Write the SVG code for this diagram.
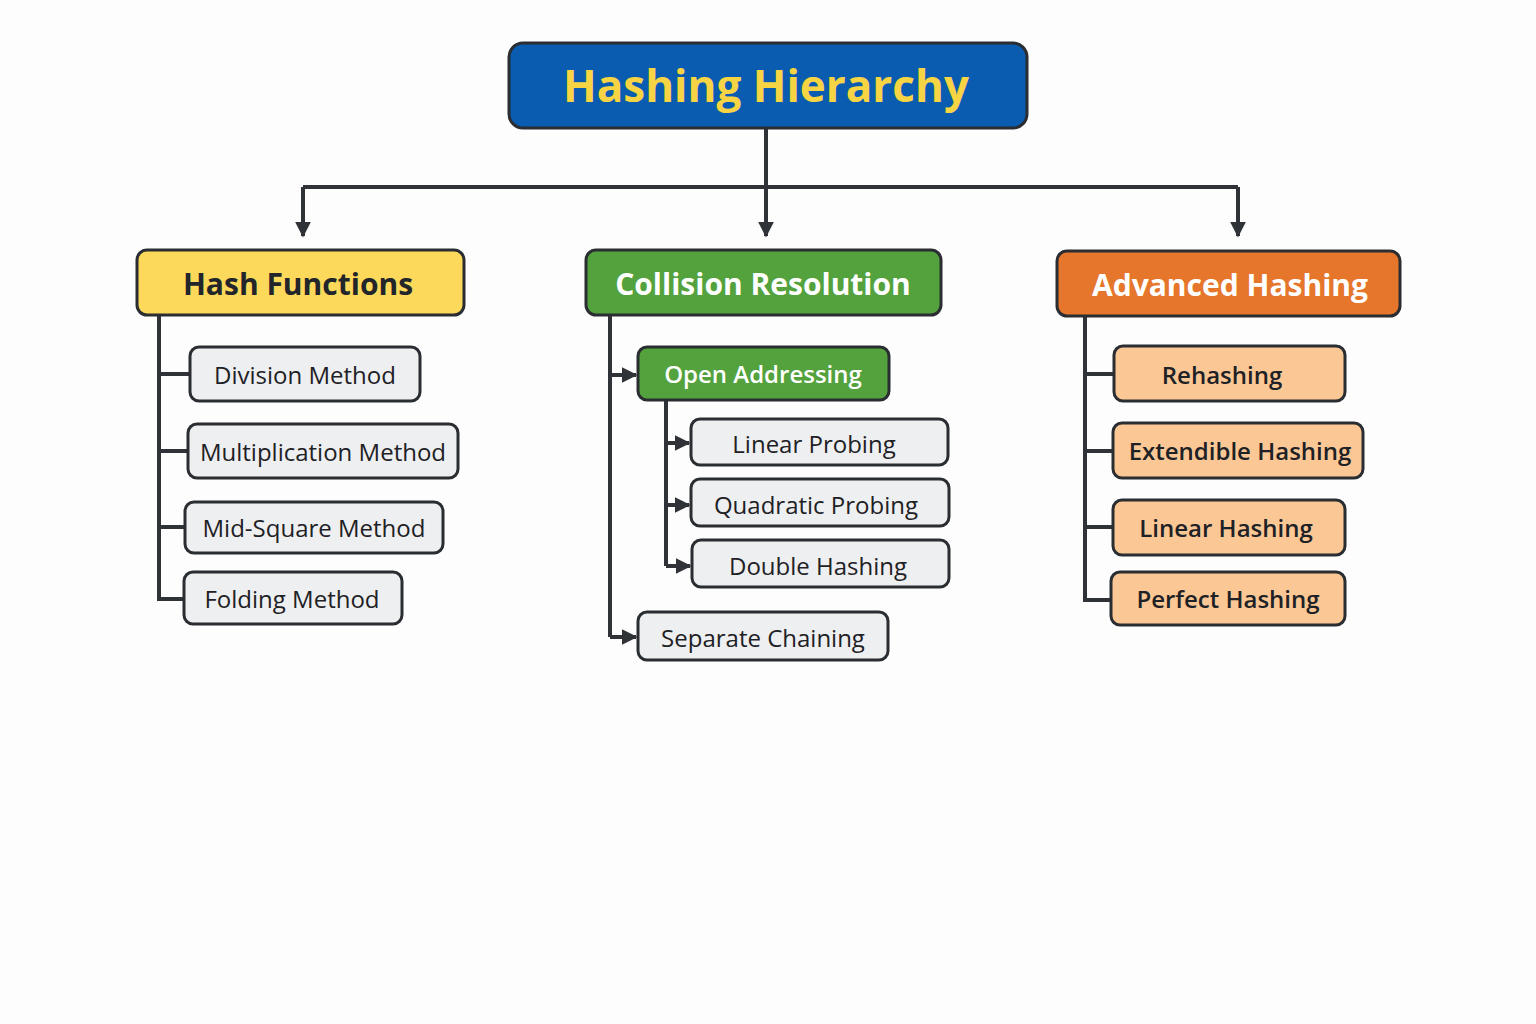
<svg xmlns="http://www.w3.org/2000/svg" width="1536" height="1024" viewBox="0 0 1536 1024">
<defs>
<style>
.n{stroke:#2a2d31;stroke-width:3}
.leaf{fill:#eeeff0}
.peach{fill:#fbc895}
.t{font-family:"Open Sans","Liberation Sans",sans-serif;font-size:24px;fill:#1e2125;text-anchor:middle;dominant-baseline:central}
.h{font-family:"Open Sans","Liberation Sans",sans-serif;font-size:30px;font-weight:bold;text-anchor:middle;dominant-baseline:central}
.c{fill:none;stroke:#2f3236;stroke-width:4}
</style>
<marker id="a" viewBox="0 0 10 10" refX="9" refY="5" markerWidth="4" markerHeight="4" orient="auto"><path d="M0,0 L10,5 L0,10 z" fill="#2f3236"/></marker>
</defs>
<rect width="1536" height="1024" fill="#fdfdfd"/>
<g id="connectors">
<path class="c" d="M766,128 V187 M303,187 H1238"/>
<path class="c" d="M303,187 V236" marker-end="url(#a)"/>
<path class="c" d="M766,187 V236" marker-end="url(#a)"/>
<path class="c" d="M1238,187 V236" marker-end="url(#a)"/>
<path class="c" d="M159,315 V599 H185 M159,374 H190 M159,451 H188 M159,527 H185"/>
<path class="c" d="M610,315 V637"/>
<path class="c" d="M610,375 H636" marker-end="url(#a)"/>
<path class="c" d="M610,637 H636" marker-end="url(#a)"/>
<path class="c" d="M666,400 V566"/>
<path class="c" d="M666,443 H689" marker-end="url(#a)"/>
<path class="c" d="M666,505 H689" marker-end="url(#a)"/>
<path class="c" d="M666,566 H690" marker-end="url(#a)"/>
<path class="c" d="M1085,316 V600 H1111 M1085,374 H1114 M1085,451 H1113 M1085,527 H1113"/>
</g>
<g id="root"><rect class="n" x="509" y="43" width="518" height="85" rx="14" fill="#0a5cb0"/><text class="h" x="766" y="85" style="font-size:44px;fill:#f7d443">Hashing Hierarchy</text></g>
<g id="hash-functions"><rect class="n" x="137" y="250" width="327" height="65" rx="10" fill="#fcd95a"/><text class="h" x="298" y="283" fill="#22252a">Hash Functions</text></g>
<g id="collision-resolution"><rect class="n" x="586" y="250" width="355" height="65" rx="10" fill="#53a23d"/><text class="h" x="763" y="283" fill="#fff">Collision Resolution</text></g>
<g id="advanced-hashing"><rect class="n" x="1057" y="251" width="343" height="65" rx="10" fill="#e5762b"/><text class="h" x="1230" y="284" fill="#fff">Advanced Hashing</text></g>
<g id="division"><rect class="n leaf" x="190" y="347" width="230" height="54" rx="9"/><text class="t" x="305" y="374">Division Method</text></g>
<g id="multiplication"><rect class="n leaf" x="188" y="424" width="270" height="54" rx="9"/><text class="t" x="323" y="451">Multiplication Method</text></g>
<g id="mid-square"><rect class="n leaf" x="185" y="502" width="258" height="51" rx="9"/><text class="t" x="314" y="527">Mid-Square Method</text></g>
<g id="folding"><rect class="n leaf" x="184" y="572" width="218" height="52" rx="9"/><text class="t" x="292" y="598">Folding Method</text></g>
<g id="open-addressing"><rect class="n" x="638" y="347" width="251" height="53" rx="9" fill="#53a23d"/><text class="t" x="763" y="373" style="fill:#fff;font-weight:600">Open Addressing</text></g>
<g id="linear-probing"><rect class="n leaf" x="691" y="419" width="257" height="46" rx="9"/><text class="t" x="814" y="443">Linear Probing</text></g>
<g id="quadratic-probing"><rect class="n leaf" x="691" y="479" width="258" height="47" rx="9"/><text class="t" x="816" y="504">Quadratic Probing</text></g>
<g id="double-hashing"><rect class="n leaf" x="692" y="540" width="257" height="47" rx="9"/><text class="t" x="818" y="565">Double Hashing</text></g>
<g id="separate-chaining"><rect class="n leaf" x="638" y="612" width="250" height="48" rx="9"/><text class="t" x="763" y="637">Separate Chaining</text></g>
<g id="rehashing"><rect class="n peach" x="1114" y="346" width="231" height="55" rx="9"/><text class="t" x="1222" y="374" style="font-weight:600">Rehashing</text></g>
<g id="extendible"><rect class="n peach" x="1113" y="423" width="250" height="55" rx="9"/><text class="t" x="1240" y="450" style="font-weight:600">Extendible Hashing</text></g>
<g id="linear-hashing"><rect class="n peach" x="1113" y="500" width="232" height="55" rx="9"/><text class="t" x="1226" y="527" style="font-weight:600">Linear Hashing</text></g>
<g id="perfect-hashing"><rect class="n peach" x="1111" y="572" width="234" height="53" rx="9"/><text class="t" x="1228" y="598" style="font-weight:600">Perfect Hashing</text></g>
</svg>
